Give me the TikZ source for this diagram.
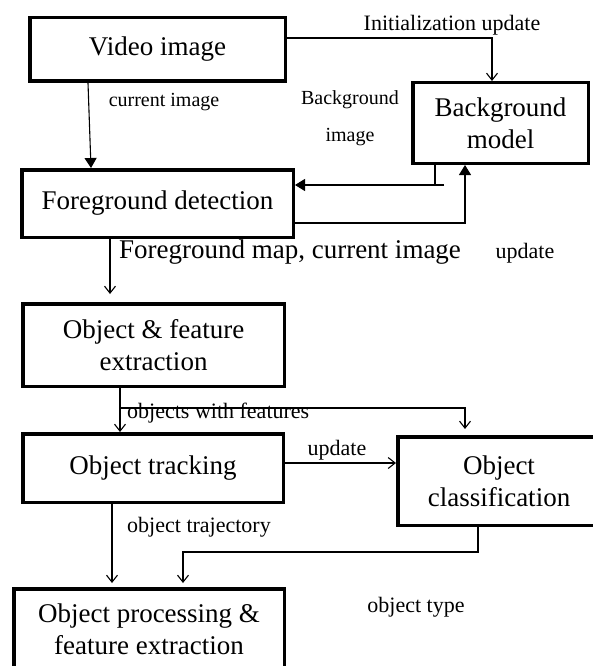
\documentclass[tikz,border=0pt]{standalone}
\usepackage{fontspec}
\setmainfont{Liberation Serif}
\usetikzlibrary{arrows.meta,positioning}

\begin{document}
\begin{tikzpicture}[
    x=1pt, y=-1pt,
    box/.style={draw, line width=3.5pt, align=center, inner sep=0pt, font=\fontsize{27}{32}\selectfont},
    oarr/.style={-{Straight Barb[length=7pt, width=11pt]}, line width=1.1pt},
    farr/.style={-{Triangle[length=10pt, width=12pt]}, line width=1.1pt},
    conn/.style={line width=1.1pt},
    lbl/.style={font=\fontsize{22}{26}\selectfont, inner sep=0pt},
    slbl/.style={font=\fontsize{20}{37}\selectfont, inner sep=0pt, align=center}
]
\useasboundingbox (0,0) rectangle (592,666);

\node[box, minimum width=255.5pt, minimum height=63.5pt] (vid) at (157.5,49.5) {Video image};
\node[box, minimum width=175.5pt, minimum height=80.5pt] (bg) at (500.5,123) {Background\\model};
\node[box, minimum width=271.5pt, minimum height=67.5pt] (fg) at (157.5,203.5) {Foreground detection};
\node[box, minimum width=261.5pt, minimum height=82.5pt] (ofe) at (153.5,345) {Object \& feature\\extraction};
\node[box, minimum width=260.5pt, minimum height=68.5pt] (trk) at (153,468) {Object tracking};
\node[box, minimum width=202.5pt, minimum height=88.5pt] (cls) at (499,481) {Object\\classification};
\node[box, minimum width=270.5pt, minimum height=80.5pt] (proc) at (149,629) {Object processing \&\\feature extraction};

\node[lbl] (lini) at (452,25) {Initialization update};
\node[slbl] (lcur) at (164,102) {current image};
\node[slbl] (lbgi) at (350,118.5) {Background\\image};
\node[lbl, font=\fontsize{27}{32}\selectfont] (lfgm) at (290,252) {Foreground map, current image};
\node[lbl] (lupd) at (525,253) {update};
\node[lbl, anchor=base west] (lowf) at (127,418) {objects with features};
\node[lbl] (lupc) at (337,450) {update};
\node[lbl] (ltra) at (199,527) {object trajectory};
\node[lbl] (ltyp) at (416,607) {object type};

\coordinate (bgo) at (444,185);
\coordinate (br) at (120,408);

\draw[farr] ([xshift=-69.5pt]vid.south) -- ([xshift=-66.5pt]fg.north);
\draw[oarr] ([yshift=11.5pt]vid.east) -| ([xshift=-8.5pt]bg.north);
\draw[conn] ([xshift=-65.5pt]bg.south) |- (bgo);
\draw[farr] (bgo) -- (fg.east |- bgo);
\draw[farr] ([yshift=-19.5pt]fg.east) -| ([xshift=-35.5pt]bg.south);
\draw[oarr, shorten >=8pt] ([xshift=-47.5pt]fg.south) -- ([xshift=-47.5pt]fg.south |- ofe.north);
\draw[oarr] ([xshift=-33.5pt]ofe.south) -- ([xshift=-33.5pt]ofe.south |- trk.north);
\draw[oarr, shorten >=6pt] (br) -| ([xshift=-34pt]cls.north);
\draw[oarr] ([yshift=5pt]trk.east) -- ([yshift=5pt]trk.east -| cls.west);
\draw[oarr, shorten >=4pt] ([xshift=-41pt]trk.south) -- ([xshift=-41pt]trk.south |- proc.north);
\draw[oarr, shorten >=4pt] ([xshift=-21pt]cls.south) -- ++(0,25) -| ([xshift=34pt]proc.north);
\end{tikzpicture}
\end{document}
